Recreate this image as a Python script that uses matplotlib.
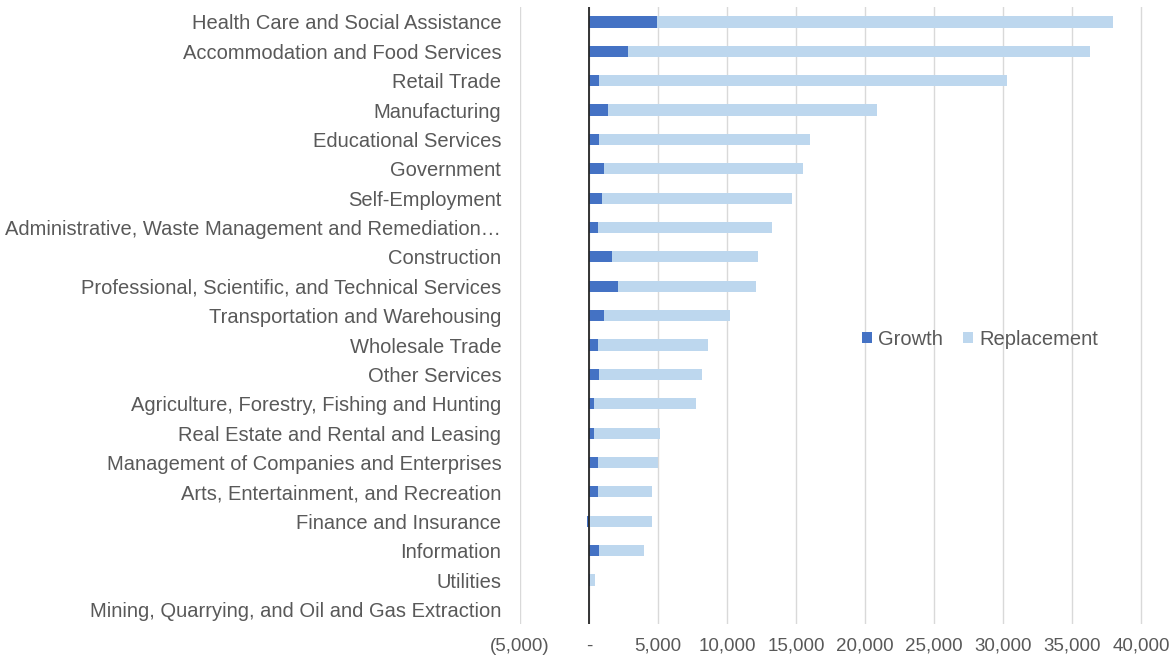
import matplotlib.pyplot as plt
from matplotlib.ticker import FuncFormatter

plt.rcParams['font.family'] = ['Liberation Sans', 'DejaVu Sans']

industries = [
    'Health Care and Social Assistance',
    'Accommodation and Food Services',
    'Retail Trade',
    'Manufacturing',
    'Educational Services',
    'Government',
    'Self-Employment',
    'Administrative, Waste Management and Remediation\u2026',
    'Construction',
    'Professional, Scientific, and Technical Services',
    'Transportation and Warehousing',
    'Wholesale Trade',
    'Other Services',
    'Agriculture, Forestry, Fishing and Hunting',
    'Real Estate and Rental and Leasing',
    'Management of Companies and Enterprises',
    'Arts, Entertainment, and Recreation',
    'Finance and Insurance',
    'Information',
    'Utilities',
    'Mining, Quarrying, and Oil and Gas Extraction',
]
growth = [4930, 2830, 730, 1380, 730, 1090, 940, 650, 1670, 2100, 1090,
          650, 730, 360, 360, 620, 620, -150, 730, 40, 20]
total = [37950, 36280, 30260, 20830, 15970, 15530, 14730, 13280, 12270, 12120, 10230,
         8640, 8200, 7760, 5150, 5010, 4570, 4570, 4000, 420, 60]
replacement = [t - max(g, 0) for t, g in zip(total, growth)]

dark = '#4472c4'
light = '#bdd7ee'
text_col = '#595959'

fig = plt.figure(figsize=(11.75, 6.59), dpi=100)
ax = fig.add_axes([0.4426, 0.053, 0.531, 0.936])

y = list(range(len(industries)))
left_rep = [max(g, 0) for g in growth]
ax.barh(y, growth, height=0.38, color=dark, label='Growth', zorder=3)
ax.barh(y, replacement, left=left_rep, height=0.38, color=light,
        label='Replacement', zorder=3)

ax.set_ylim(len(industries) - 0.5, -0.5)
ax.set_yticks(y)
ax.set_yticklabels(industries, fontsize=14.5, color=text_col)
ax.tick_params(axis='y', length=0, pad=13.5)

ax.set_xlim(-5000, 40200)
ax.set_xticks(range(-5000, 40001, 5000))

def fmt(v, pos):
    if v == 0:
        return '-'
    if v < 0:
        return '({:,.0f})'.format(-v)
    return '{:,.0f}'.format(v)

ax.xaxis.set_major_formatter(FuncFormatter(fmt))
ax.tick_params(axis='x', length=0, pad=10, labelsize=13.5, labelcolor=text_col)
ax.grid(axis='x', color='#d9d9d9', linewidth=1, zorder=0)
ax.axvline(0, color='#262626', linewidth=1.3, zorder=4)

for s in ax.spines.values():
    s.set_visible(False)

ax.legend(loc='center', bbox_to_anchor=(0.737, 0.462), ncol=2, frameon=False,
          fontsize=14.5, labelcolor=text_col, handlelength=0.5, handleheight=0.5,
          handletextpad=0.3, columnspacing=1.0)

plt.savefig('out.png', dpi=100)
